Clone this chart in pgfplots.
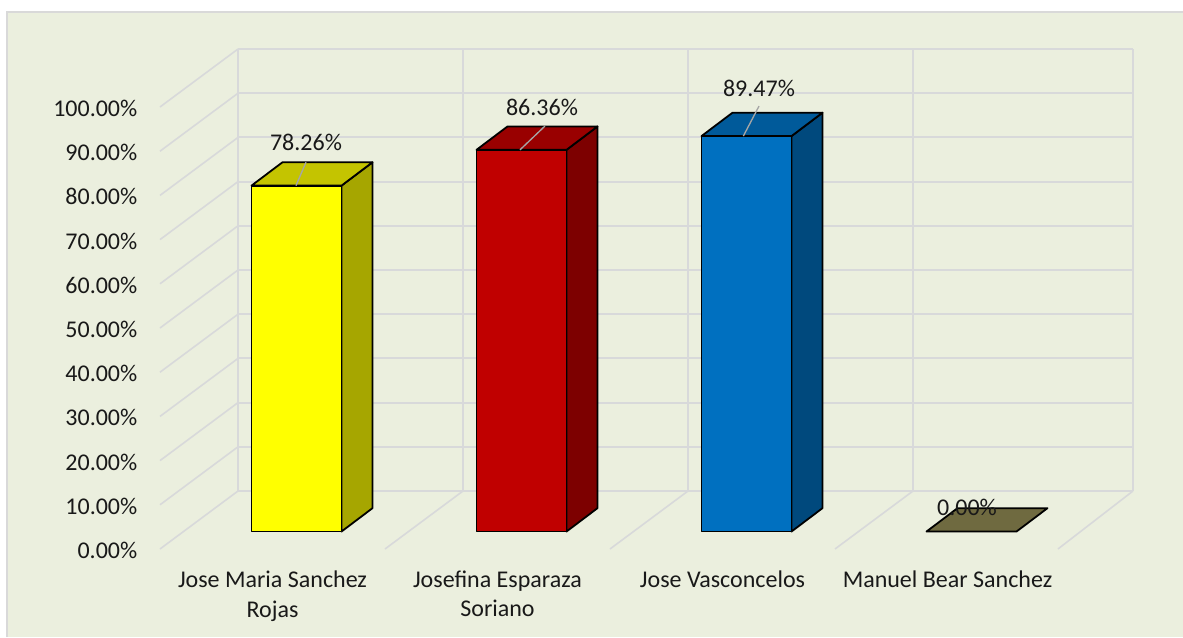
\documentclass[border=0pt]{standalone}
\usepackage{fontspec}
\setmainfont{Carlito}
\usepackage{pgfplots}
\pgfplotsset{compat=1.18}
\definecolor{panel}{HTML}{EBEFDE}
\definecolor{panelline}{HTML}{D9D9D9}
\definecolor{gridc}{HTML}{D8D9DA}
\definecolor{yelF}{HTML}{FFFF00}\definecolor{yelS}{HTML}{A6A600}\definecolor{yelT}{HTML}{C4C400}
\definecolor{redF}{HTML}{C00000}\definecolor{redS}{HTML}{7D0000}\definecolor{redT}{HTML}{990000}
\definecolor{bluF}{HTML}{0070C0}\definecolor{bluS}{HTML}{00497D}\definecolor{bluT}{HTML}{005A9A}
\definecolor{gryT}{HTML}{6F6A40}
\begin{document}
\begin{tikzpicture}
\useasboundingbox (0pt,0pt) rectangle (887.25pt,477.75pt);
\fill[white] (0pt,0pt) rectangle (887.25pt,477.75pt);
\fill[panel] (5.25pt,0pt) rectangle (887.25pt,468.4pt);
\draw[panelline,line width=1.5pt] (5.25pt,0pt) -- (5.25pt,468.4pt) -- (887.25pt,468.4pt);
\begin{axis}[
  at={(120pt,66pt)},anchor=south west,
  scale only axis,width=675pt,height=331.5pt,
  xmin=0,xmax=4,ymin=0,ymax=100,
  clip=false,unbounded coords=jump,
  axis line style={draw=none},
  major tick length=0pt,
  xtick={0.5,1.5,2.5,3.5},
  xticklabels={{Jose Maria Sanchez\\Rojas},{Josefina Esparaza\\Soriano},{Jose Vasconcelos},{Manuel Bear Sanchez}},
  ytick={0,10,20,30,40,50,60,70,80,90,100},
  yticklabels={0.00\%,10.00\%,20.00\%,30.00\%,40.00\%,50.00\%,60.00\%,70.00\%,80.00\%,90.00\%,100.00\%},
  tick label style={font=\fontsize{18}{22}\selectfont,text=black!90},
  yticklabel style={anchor=east,xshift=-13.5pt,yshift=-1pt},
  xticklabel style={anchor=north,align=center,yshift=-13pt},
  bar/.style={draw=black,line width=1.35pt,line join=round},
  leader/.style={draw=black!35,line width=1pt},
]
% back wall
\addplot[gridc,line width=1.5pt] coordinates {
(0.3467,13.12)(4.3244,13.12)(nan,nan)(0.3467,23.12)(4.3244,23.12)(nan,nan)
(0.3467,33.12)(4.3244,33.12)(nan,nan)(0.3467,43.12)(4.3244,43.12)(nan,nan)
(0.3467,53.12)(4.3244,53.12)(nan,nan)(0.3467,63.12)(4.3244,63.12)(nan,nan)
(0.3467,73.12)(4.3244,73.12)(nan,nan)(0.3467,83.12)(4.3244,83.12)(nan,nan)
(0.3467,93.12)(4.3244,93.12)(nan,nan)(0.3467,103.12)(4.3244,103.12)(nan,nan)
(0.3467,113.12)(4.3244,113.12)(nan,nan)
(0.3467,13.12)(0.3467,113.12)(nan,nan)(1.3467,13.12)(1.3467,113.12)(nan,nan)
(2.3467,13.12)(2.3467,113.12)(nan,nan)(3.3467,13.12)(3.3467,113.12)(nan,nan)
(4.3244,13.12)(4.3244,113.12)};
% left wall and floor
\addplot[gridc,line width=1.2pt] coordinates {
(0,0)(0.3467,13.12)(nan,nan)(0,10)(0.3467,23.12)(nan,nan)(0,20)(0.3467,33.12)(nan,nan)
(0,30)(0.3467,43.12)(nan,nan)(0,40)(0.3467,53.12)(nan,nan)(0,50)(0.3467,63.12)(nan,nan)
(0,60)(0.3467,73.12)(nan,nan)(0,70)(0.3467,83.12)(nan,nan)(0,80)(0.3467,93.12)(nan,nan)
(0,90)(0.3467,103.12)(nan,nan)(0,100)(0.3467,113.12)(nan,nan)
(1,0)(1.3467,13.12)(nan,nan)(2,0)(2.3467,13.12)(nan,nan)(3,0)(3.3467,13.12)(nan,nan)
(3.991,0)(4.3244,13.12)};
% bar 1: 78.26
\addplot[bar,fill=yelS] coordinates {(0.8067,3.95)(0.9444,9.24)(0.9444,87.50)(0.8067,82.21)} -- cycle;
\addplot[bar,fill=yelT] coordinates {(0.4067,82.21)(0.8067,82.21)(0.9444,87.50)(0.5444,87.50)} -- cycle;
\addplot[bar,fill=yelF] coordinates {(0.4067,3.95)(0.8067,3.95)(0.8067,82.21)(0.4067,82.21)} -- cycle;
% bar 2: 86.36
\addplot[bar,fill=redS] coordinates {(1.8067,3.95)(1.9444,9.24)(1.9444,95.60)(1.8067,90.31)} -- cycle;
\addplot[bar,fill=redT] coordinates {(1.4067,90.31)(1.8067,90.31)(1.9444,95.60)(1.5444,95.60)} -- cycle;
\addplot[bar,fill=redF] coordinates {(1.4067,3.95)(1.8067,3.95)(1.8067,90.31)(1.4067,90.31)} -- cycle;
% bar 3: 89.47
\addplot[bar,fill=bluS] coordinates {(2.8067,3.95)(2.9444,9.24)(2.9444,98.71)(2.8067,93.42)} -- cycle;
\addplot[bar,fill=bluT] coordinates {(2.4067,93.42)(2.8067,93.42)(2.9444,98.71)(2.5444,98.71)} -- cycle;
\addplot[bar,fill=bluF] coordinates {(2.4067,3.95)(2.8067,3.95)(2.8067,93.42)(2.4067,93.42)} -- cycle;
% bar 4: 0
\addplot[bar,fill=gryT] coordinates {(3.4067,3.95)(3.8067,3.95)(3.9444,9.24)(3.5444,9.24)} -- cycle;
% leaders
\addplot[leader] coordinates {(0.6044,82.21)(0.6489,87.50)};
\addplot[leader] coordinates {(1.6000,90.31)(1.7111,95.70)};
\addplot[leader] coordinates {(2.5926,93.42)(2.6622,100.2)};
% value labels
\tikzset{vl/.style={font=\fontsize{18}{22}\selectfont,text=black!90,inner sep=0pt}}
\node[vl] at (axis cs:0.6489,91.9) {78.26\%};
\node[vl] at (axis cs:1.6978,100.0) {86.36\%};
\node[vl] at (axis cs:2.6622,104.3) {89.47\%};
\node[vl] at (axis cs:3.5867,9.5) {0.00\%};
\end{axis}
\end{tikzpicture}
\end{document}
